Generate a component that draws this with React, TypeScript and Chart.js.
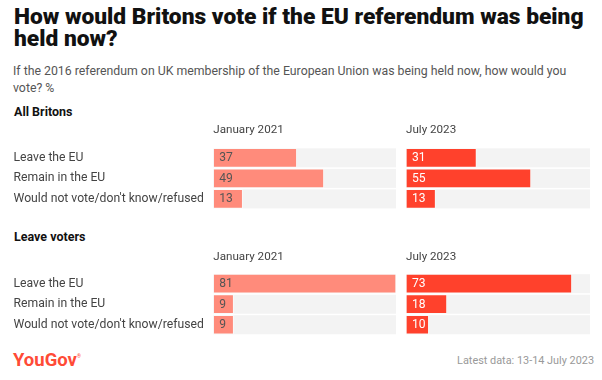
import React, { useEffect, useRef } from 'react';
import { Chart, registerables } from 'chart.js';

Chart.register(...registerables);

const FONT = 'Roboto, "Liberation Sans", sans-serif';

// ---- data ----
const rowLabels = ['Leave the EU', 'Remain in the EU', "Would not vote/don't know/refused"];
const periodLabels = ['January 2021', 'July 2023'];
const groupLabels = ['All Britons', 'Leave voters'];
const allBritonsJan2021 = [37, 49, 13];
const allBritonsJul2023 = [31, 55, 13];
const leaveVotersJan2021 = [81, 9, 9];
const leaveVotersJul2023 = [73, 18, 10];
const axisMax = 81;

const titleLines = ['How would Britons vote if the EU referendum was being', 'held now?'];
const subtitleLines = [
  'If the 2016 referendum on UK membership of the European Union was being held now, how would you',
  'vote? %',
];
const footnote = 'Latest data: 13-14 July 2023';
const brand = 'YouGov';

// ---- styles ----
const JAN_COLOR = '#FF8B7B';
const JUL_COLOR = '#FF412C';
const TRACK = '#F3F3F3';

let mctx: CanvasRenderingContext2D | null = null;
function fitSize(text: string, weight: number, target: number): number {
  if (!mctx) mctx = document.createElement('canvas').getContext('2d');
  mctx!.font = `${weight} 100px ${FONT}`;
  return (100 * target) / mctx!.measureText(text).width;
}

const trackPlugin = {
  id: 'track',
  beforeDatasetsDraw(chart: any) {
    const { ctx, chartArea } = chart;
    const meta = chart.getDatasetMeta(0);
    ctx.save();
    ctx.fillStyle = TRACK;
    meta.data.forEach((bar: any) => {
      const p = bar.getProps(['y', 'height'], true);
      ctx.fillRect(chartArea.left, p.y - p.height / 2, chartArea.right - chartArea.left, p.height);
    });
    ctx.restore();
  },
};

const valuePlugin = {
  id: 'values',
  afterDatasetsDraw(chart: any, _args: any, opts: any) {
    const { ctx } = chart;
    const meta = chart.getDatasetMeta(0);
    const data = chart.data.datasets[0].data;
    ctx.save();
    ctx.font = `400 ${opts.size}px ${FONT}`;
    ctx.fillStyle = opts.color;
    ctx.textAlign = 'left';
    ctx.textBaseline = 'middle';
    meta.data.forEach((bar: any, i: number) => {
      const p = bar.getProps(['y', 'base'], true);
      ctx.fillText(String(data[i]), p.base + 6, p.y + 0.5);
    });
    ctx.restore();
  },
};

type PanelProps = {
  values: number[];
  header: string;
  color: string;
  textColor: string;
  showLabels: boolean;
  left: number;
  width: number;
  padLeft: number;
  barStart: number;
  headerCy: number;
  areaTop: number;
  areaH: number;
  labelSize: number;
  headerSize: number;
  valueSize: number;
};

function Panel(props: PanelProps) {
  const ref = useRef<HTMLCanvasElement>(null);
  const { headerCy, headerSize, areaTop, areaH } = props;
  const top0 = headerCy - headerSize / 2;
  const T = Math.floor(top0);
  const padTop = top0 - T;
  const pb = areaTop - headerCy - headerSize / 2;
  const bottom = areaTop + areaH - T;
  const H = Math.ceil(bottom);
  const padBottom = H - bottom;
  const yAxisWidth = props.barStart - props.left - props.padLeft;

  useEffect(() => {
    const chart = new Chart(ref.current!, {
      type: 'bar',
      data: {
        labels: rowLabels,
        datasets: [
          {
            data: props.values,
            backgroundColor: props.color,
            borderColor: 'rgba(255,255,255,0.45)',
            borderWidth: 1,
            borderSkipped: false,
            barThickness: 19,
          },
        ],
      },
      options: {
        indexAxis: 'y',
        animation: false,
        responsive: false,
        maintainAspectRatio: false,
        events: [],
        layout: { padding: { left: props.padLeft, right: 0, top: padTop, bottom: padBottom } },
        plugins: {
          legend: { display: false },
          tooltip: { enabled: false },
          values: { color: props.textColor, size: props.valueSize },
        } as any,
        scales: {
          x: {
            position: 'top',
            min: 0,
            max: axisMax,
            grid: { display: false },
            border: { display: false },
            ticks: { display: false },
            title: {
              display: true,
              text: props.header,
              align: 'start',
              color: '#444',
              font: { family: FONT, size: props.headerSize, lineHeight: 1 },
              padding: { top: 0, bottom: pb },
            },
            afterFit: (s: any) => {
              s.paddingLeft = 0;
              s.paddingRight = 0;
            },
          },
          y: {
            display: props.showLabels,
            grid: { display: false },
            border: { display: false },
            ticks: {
              crossAlign: 'far',
              color: '#444',
              padding: 0,
              font: { family: FONT, size: props.labelSize },
            },
            afterFit: (s: any) => {
              s.width = yAxisWidth;
              s.paddingTop = 0;
              s.paddingBottom = 0;
            },
          },
        },
      } as any,
      plugins: [trackPlugin, valuePlugin],
    });
    return () => chart.destroy();
  }, []);

  return (
    <canvas
      ref={ref}
      width={props.width}
      height={H}
      style={{ position: 'absolute', left: props.left, top: T, width: props.width, height: H }}
    />
  );
}

function Text(p: {
  x: number;
  cy: number;
  size: number;
  weight?: number;
  color: string;
  right?: boolean;
  children: React.ReactNode;
}) {
  const style: React.CSSProperties = {
    position: 'absolute',
    top: p.cy - p.size / 2,
    fontSize: p.size,
    lineHeight: `${p.size}px`,
    fontWeight: p.weight ?? 400,
    color: p.color,
    whiteSpace: 'nowrap',
    fontFamily: FONT,
  };
  if (p.right) style.right = 602 - p.x;
  else style.left = p.x;
  return <div style={style}>{p.children}</div>;
}

export default function App() {
  const titleSize = fitSize(titleLines[0], 900, 570);
  const subSize = fitSize(subtitleLines[0], 400, 554);
  const labelSize = fitSize(rowLabels[2], 400, 190.5);
  const headerSize = fitSize(periodLabels[0], 400, 70.5);
  const groupSize = fitSize(groupLabels[0], 700, 58.5);
  const footSize = fitSize(footnote, 400, 137);
  const brandSize = fitSize(brand, 700, 64);
  const valueSize = fitSize('37', 400, 13.6);

  const common = { labelSize, headerSize, valueSize, areaH: 69.6 };
  const janGeom = { left: 0, width: 396, padLeft: 13.5, barStart: 213.3, showLabels: true };
  const julGeom = { left: 400, width: 190, padLeft: 6, barStart: 406, showLabels: false };

  const groups = [
    { name: groupLabels[0], cy: 112, headerCy: 130, areaTop: 139.6, jan: allBritonsJan2021, jul: allBritonsJul2023 },
    { name: groupLabels[1], cy: 237.7, headerCy: 256.7, areaTop: 265.4, jan: leaveVotersJan2021, jul: leaveVotersJul2023 },
  ];

  return (
    <div
      style={{
        position: 'fixed',
        left: 0,
        top: 0,
        width: 602,
        height: 380,
        background: '#fff',
        overflow: 'hidden',
      }}
    >
      <Text x={14} cy={17.2} size={titleSize} weight={900} color="#111">
        {titleLines[0]}
      </Text>
      <Text x={14} cy={39.2} size={titleSize} weight={900} color="#111">
        {titleLines[1]}
      </Text>
      <Text x={13} cy={71} size={subSize} color="#555">
        {subtitleLines[0]}
      </Text>
      <Text x={13} cy={88.3} size={subSize} color="#555">
        {subtitleLines[1]}
      </Text>

      {groups.map((g) => (
        <React.Fragment key={g.name}>
          <Text x={14} cy={g.cy} size={groupSize} weight={700} color="#111">
            {g.name}
          </Text>
          <Panel
            {...common}
            {...janGeom}
            values={g.jan}
            header={periodLabels[0]}
            color={JAN_COLOR}
            textColor="#555"
            headerCy={g.headerCy}
            areaTop={g.areaTop}
          />
          <Panel
            {...common}
            {...julGeom}
            values={g.jul}
            header={periodLabels[1]}
            color={JUL_COLOR}
            textColor="#fff"
            headerCy={g.headerCy}
            areaTop={g.areaTop}
          />
        </React.Fragment>
      ))}

      <Text x={13} cy={360} size={brandSize} weight={700} color="#FF4B36">
        <span>{brand}</span>
        <span style={{ fontSize: 5, verticalAlign: 'top', position: 'relative', top: -4 }}>®</span>
      </Text>
      <Text x={594} cy={361} size={footSize} color="#999" right>
        {footnote}
      </Text>
    </div>
  );
}
